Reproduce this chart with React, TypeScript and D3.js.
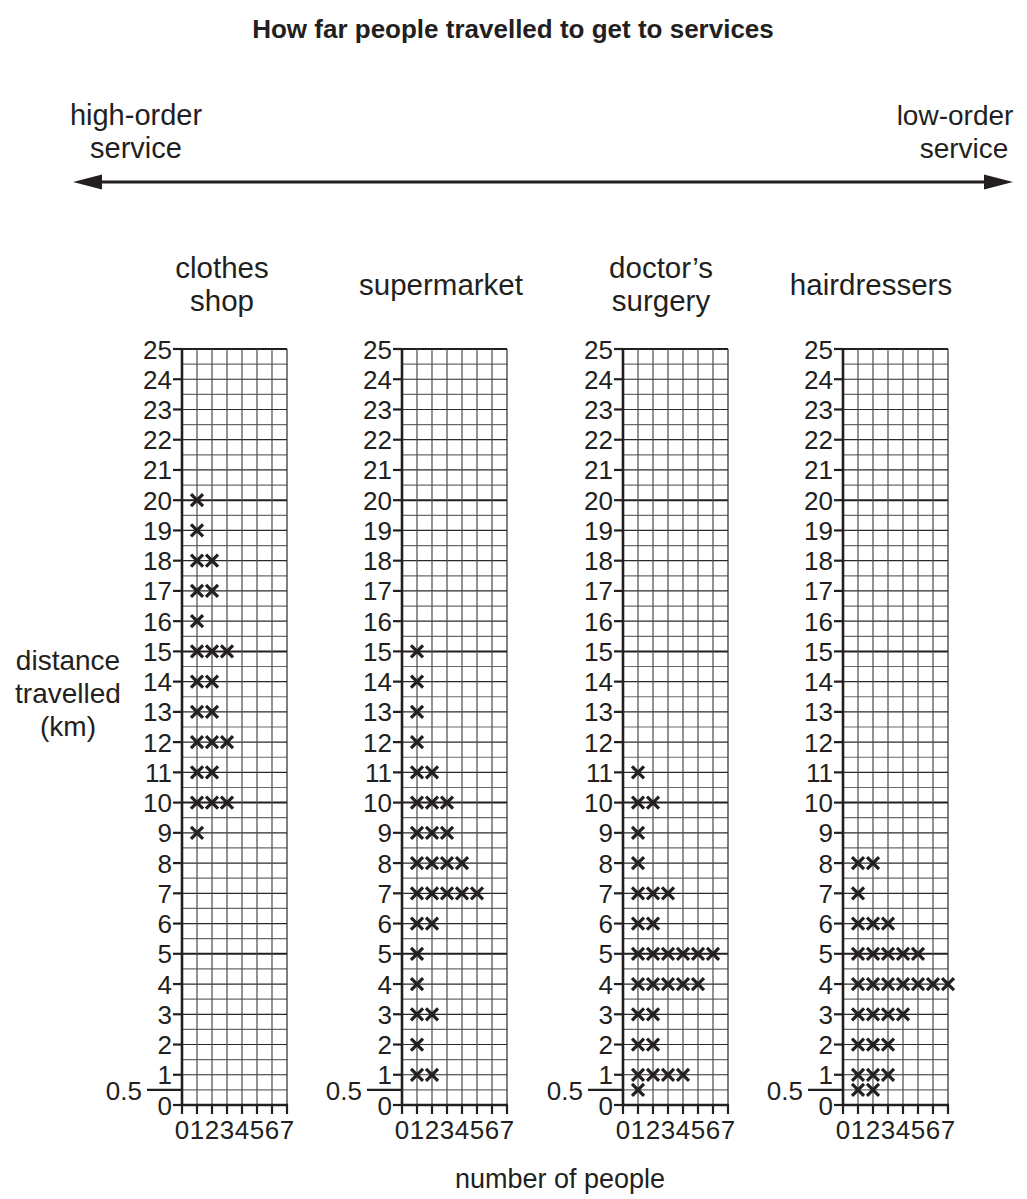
import React from "react";
import * as d3 from "d3";

// distance (km) -> number of people, one cross per person
const clothesShop: [number, number][] = [
  [20, 1], [19, 1], [18, 2], [17, 2], [16, 1], [15, 3],
  [14, 2], [13, 2], [12, 3], [11, 2], [10, 3], [9, 1],
];
const supermarket: [number, number][] = [
  [15, 1], [14, 1], [13, 1], [12, 1], [11, 2], [10, 3], [9, 3], [8, 4],
  [7, 5], [6, 2], [5, 1], [4, 1], [3, 2], [2, 1], [1, 2],
];
const doctorsSurgery: [number, number][] = [
  [11, 1], [10, 2], [9, 1], [8, 1], [7, 3], [6, 2], [5, 6], [4, 5],
  [3, 2], [2, 2], [1, 4], [0.5, 1],
];
const hairdressers: [number, number][] = [
  [8, 2], [7, 1], [6, 3], [5, 5], [4, 7], [3, 4], [2, 3], [1, 3], [0.5, 2],
];

const panelTitles = [["clothes", "shop"], ["supermarket"], ["doctor’s", "surgery"], ["hairdressers"]];
const panelData = [clothesShop, supermarket, doctorsSurgery, hairdressers];
const yTickValues = d3.range(0, 26);
const xTickValues = d3.range(0, 8);

const title = "How far people travelled to get to services";
const yLabel = ["distance", "travelled", "(km)"];
const xLabel = "number of people";

const W = 1027;
const H = 1199;
const ink = "#231f20";
const font = "'Liberation Sans', Arial, Helvetica, sans-serif";

const panelX0 = [182, 402, 623, 843];
const titleDx = [40, 39, 38, 28];
const colW = 15;

const y = d3.scaleLinear().domain([0, 25]).range([1105, 349]);

const Panel: React.FC<{ x0: number; data: [number, number][]; titleLines: string[]; tdx: number }> = ({ x0, data, titleLines, tdx }) => {
  const x = d3.scaleLinear().domain([0, 7]).range([x0, x0 + 7 * colW]);
  const halfSteps = d3.range(0, 25.01, 0.5);
  const crosses = data.flatMap(([km, n]) => d3.range(1, n + 1).map((i) => ({ km, i })));
  const s = 6;
  return (
    <g>
      {titleLines.map((t, k) => (
        <text
          key={t}
          x={x0 + tdx}
          y={titleLines.length === 1 ? 295 : 278 + k * 33}
          textAnchor="middle"
          fontSize={29.5}
          fill={ink}
        >
          {t}
        </text>
      ))}
      {/* horizontal grid */}
      {halfSteps.map((v) => {
        const major = v % 5 === 0;
        const whole = Number.isInteger(v);
        return (
          <line
            key={"h" + v}
            x1={x(0)}
            x2={x(7)}
            y1={y(v)}
            y2={y(v)}
            stroke={major ? ink : whole ? "#2a2a2a" : "#6a6a6a"}
            strokeWidth={major ? 2 : 1.2}
          />
        );
      })}
      {/* vertical grid */}
      {xTickValues.slice(1).map((v) => (
        <line key={"v" + v} x1={x(v)} x2={x(v)} y1={y(0)} y2={y(25)} stroke={v === 7 ? "#2a2a2a" : "#4a4a4a"} strokeWidth={1.2} />
      ))}
      {/* y axis */}
      <line x1={x(0)} x2={x(0)} y1={y(0) + 1} y2={y(25) - 1} stroke={ink} strokeWidth={2.6} />
      <line x1={x(0) - 1} x2={x(7) + 1} y1={y(0)} y2={y(0)} stroke={ink} strokeWidth={2.6} />
      {yTickValues.map((v) => (
        <g key={"yt" + v}>
          <line x1={x(0) - 9} x2={x(0)} y1={y(v)} y2={y(v)} stroke={ink} strokeWidth={2.2} />
          <text x={x(0) - 10} y={y(v) + 9.5} textAnchor="end" fontSize={26} fill={ink}>
            {v}
          </text>
        </g>
      ))}
      {/* 0.5 marker */}
      <line x1={x(0) - 35} x2={x(0)} y1={y(0.5)} y2={y(0.5)} stroke={ink} strokeWidth={2.2} />
      <text x={x(0) - 40} y={y(0.5) + 10} textAnchor="end" fontSize={26} fill={ink}>
        0.5
      </text>
      {/* x axis ticks */}
      {xTickValues.map((v) => (
        <g key={"xt" + v}>
          <line x1={x(v)} x2={x(v)} y1={y(0)} y2={y(0) + 9} stroke={ink} strokeWidth={2.2} />
          <text x={x(v)} y={y(0) + 34} textAnchor="middle" fontSize={26} fill={ink}>
            {v}
          </text>
        </g>
      ))}
      {/* crosses */}
      {crosses.map(({ km, i }) => (
        <path
          key={km + "-" + i}
          d={`M${x(i) - s},${y(km) - s}L${x(i) + s},${y(km) + s}M${x(i) - s},${y(km) + s}L${x(i) + s},${y(km) - s}`}
          stroke={ink}
          strokeWidth={3.2}
          fill="none"
        />
      ))}
    </g>
  );
};

export default function App() {
  const arrowY = 182;
  return (
    <svg width={W} height={H} style={{ position: "absolute", left: 0, top: 0, background: "#fff" }} fontFamily={font}>
      <text x={513} y={38} textAnchor="middle" fontSize={26} fontWeight="bold" fill={ink}>
        {title}
      </text>
      <text x={136} y={125} textAnchor="middle" fontSize={29} fill={ink}>high-order</text>
      <text x={136} y={158} textAnchor="middle" fontSize={29} fill={ink}>service</text>
      <text x={955} y={125} textAnchor="middle" fontSize={28} fill={ink}>low-order</text>
      <text x={964} y={158} textAnchor="middle" fontSize={28} fill={ink}>service</text>
      <line x1={95} x2={990} y1={arrowY} y2={arrowY} stroke={ink} strokeWidth={3} />
      <path d={`M73,${arrowY}L102,${arrowY - 7.5}L102,${arrowY + 7.5}Z`} fill={ink} />
      <path d={`M1013,${arrowY}L984,${arrowY - 7.5}L984,${arrowY + 7.5}Z`} fill={ink} />
      {yLabel.map((t, k) => (
        <text key={t} x={68} y={670 + k * 33} textAnchor="middle" fontSize={28} fill={ink}>
          {t}
        </text>
      ))}
      <text x={560} y={1188} textAnchor="middle" fontSize={27} fill={ink}>{xLabel}</text>
      {panelData.map((d, k) => (
        <Panel key={k} x0={panelX0[k]} data={d} titleLines={panelTitles[k]} tdx={titleDx[k]} />
      ))}
    </svg>
  );
}
